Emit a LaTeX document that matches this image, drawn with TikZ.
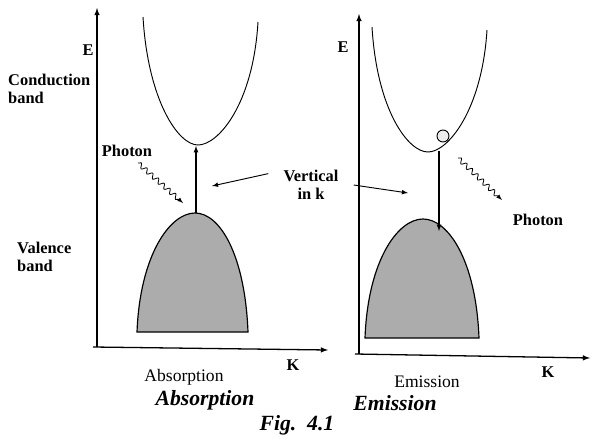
\documentclass[tikz,border=0pt]{standalone}
\usepackage{fontspec}
\setmainfont{Liberation Serif}
\usepackage{tikz}
\usetikzlibrary{decorations.pathmorphing,positioning}

\begin{document}
\begin{tikzpicture}[x=0.03cm,y=-0.03cm,>=latex,
  axis/.style={line width=1.1pt,->},
  band/.style={line width=0.8pt},
  valence/.style={line width=1pt,fill=gray!65},
  photon/.style={->,line width=0.7pt,decorate,
    decoration={snake,amplitude=0.7mm,segment length=2.3mm,post length=1.5mm}},
  lbl/.style={font=\fontsize{14}{15}\selectfont\bfseries,inner sep=0pt},
  captxt/.style={font=\fontsize{15}{16}\selectfont,inner sep=0pt},
  ttl/.style={font=\fontsize{18.5}{20}\selectfont\bfseries\itshape,inner sep=0pt}]
  \useasboundingbox (0,0) rectangle (607,445);

  % Axes
  \coordinate (oA) at (97,347);
  \draw[axis] (oA) -- (97,8);
  \draw[axis] (93,347) -- (328,350);
  \coordinate (oB) at (359,354);
  \draw[axis] (oB) -- (359,14);
  \draw[axis] (355,354) -- (590,358);
  \node[lbl] (eA) at (88,50) {E};
  \node[lbl] (kA) at (293,365) {K};
  \node[lbl] (eB) at (343,47) {E};
  \node[lbl] (kB) at (548,372) {K};

  % absorption bands
  \draw[band] (143,17) .. controls (148,100) and (178,145) .. (198,145)
    .. controls (218,145) and (253,105) .. (258,22);
  \draw[valence] (137,332) .. controls (140,255) and (170,213) .. (195,213)
    .. controls (220,213) and (245,255) .. (248,332) -- cycle;
  \coordinate (vtopA) at (196,213);
  \coordinate (cminA) at (196,146);
  \draw[->,line width=0.9pt] (vtopA) -- (cminA);

  % emission bands
  \draw[band] (372,27) .. controls (377,110) and (408,152) .. (428,152)
    .. controls (448,152) and (482,110) .. (487,30);
  \draw[valence] (365,338) .. controls (368,260) and (398,219) .. (423,219)
    .. controls (448,219) and (476,260) .. (479,338) -- cycle;
  \node[circle,draw,line width=0.8pt,fill=gray!15,minimum size=3.6mm,inner sep=0pt] (el) at (443,136) {};
  \coordinate (cminB) at (439,151);
  \coordinate (vinB) at (439,231);
  \draw[->,line width=0.9pt] (cminB) -- (vinB);

  % photons
  \coordinate (phA1) at (138,163);
  \coordinate (phA2) at (183,203);
  \draw[photon] (phA1) -- (phA2);
  \coordinate (phB1) at (458,158);
  \coordinate (phB2) at (502,200);
  \draw[photon] (phB1) -- (phB2);
  \node[lbl] (phtA) at (127,151) {Photon};
  \node[lbl] (phtB) at (538,220) {Photon};

  % vertical transition label
  \node[lbl,align=center,inner xsep=4.5mm] (vk) at (311,185) {Vertical\\in k};
  \coordinate (ptrA) at (212,186);
  \coordinate (ptrB) at (408,193);
  \draw[->,line width=0.8pt] ([yshift=-1mm]vk.north west) -- (ptrA);
  \draw[->,line width=0.8pt] (vk.east) -- (ptrB);

  % band names
  \node[lbl,anchor=west,align=left] (cb) at (8,89) {Conduction\\band};
  \node[lbl,anchor=west,align=left] (vb) at (17,257) {Valence\\band};

  % captions
  \node[captxt] (capA) at (184,377) {Absorption};
  \node[ttl] (ttlA) at (205,400) {Absorption};
  \node[captxt] (capB) at (427,382) {Emission};
  \node[ttl] (ttlB) at (395,403) {Emission};
  \node[ttl] (fig) at (297,425) {Fig.\ \ 4.1};
\end{tikzpicture}
\end{document}
